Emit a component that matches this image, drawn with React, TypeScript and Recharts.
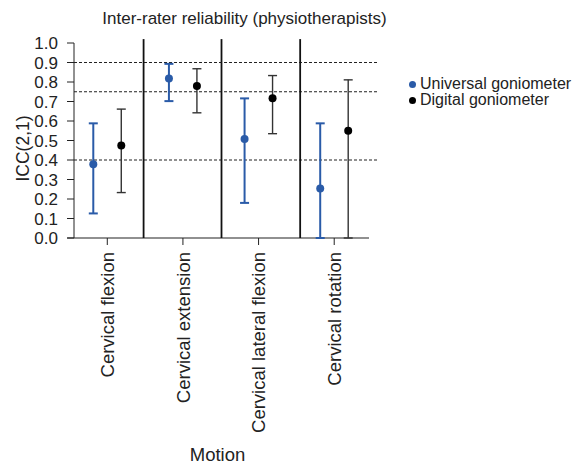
import { ScatterChart, Scatter, XAxis, YAxis, ErrorBar, ReferenceLine, Label } from 'recharts';

const FONT = '"Liberation Sans", Arial, Helvetica, sans-serif';
const BLUE = '#2a5ba8';
const INK = '#222222';

// motions on the x axis, placed at 1..4
const motions = ['Cervical flexion', 'Cervical extension', 'Cervical lateral flexion', 'Cervical rotation'];
const motionPos = [1, 2, 3, 4];
const pairOffset = 0.185;
const separators = [1.48, 2.51, 3.55];
const thresholds = [0.4, 0.75, 0.9];
const yTicks = [0, 0.1, 0.2, 0.3, 0.4, 0.5, 0.6, 0.7, 0.8, 0.9, 1.0];

// ICC(2,1) with 95% CI bounds
const universalIcc = [0.378, 0.818, 0.508, 0.254];
const universalLower = [0.126, 0.702, 0.18, 0.0];
const universalUpper = [0.588, 0.893, 0.716, 0.588];

const digitalIcc = [0.475, 0.779, 0.717, 0.55];
const digitalLower = [0.233, 0.642, 0.535, 0.0];
const digitalUpper = [0.661, 0.868, 0.833, 0.811];

function toPoints(icc: number[], lower: number[], upper: number[], shift: number) {
  return icc.map((v, i) => ({
    x: motionPos[i] + shift,
    y: v,
    ci: [v - lower[i], upper[i] - v],
  }));
}

const universalData = toPoints(universalIcc, universalLower, universalUpper, -pairOffset);
const digitalData = toPoints(digitalIcc, digitalLower, digitalUpper, pairOffset);

const MotionTick = ({ x, y, payload }: any) => {
  const idx = motionPos.indexOf(payload.value);
  return (
    <g transform={`translate(${x},${y})`}>
      <text
        transform="rotate(-90)"
        textAnchor="end"
        dy="0.36em"
        fill={INK}
        fontSize={18.5}
        fontFamily={FONT}
      >
        {motions[idx]}
      </text>
    </g>
  );
};

const dot = (color: string) => (props: any) =>
  <circle cx={props.cx} cy={props.cy} r={4} fill={color} />;

export default function App() {
  return (
    <div style={{ position: 'absolute', left: 0, top: 0, width: 574, height: 465, background: '#fff', fontFamily: FONT }}>
      <div
        style={{
          position: 'absolute',
          left: 0,
          width: 489,
          top: 9,
          textAlign: 'center',
          fontSize: 17,
          color: INK,
          whiteSpace: 'nowrap',
        }}
      >
        Inter-rater reliability (physiotherapists)
      </div>

      <ScatterChart width={574} height={465} margin={{ top: 43, right: 205, left: 0, bottom: 0 }}>
        <XAxis
          type="number"
          dataKey="x"
          domain={[0.56, 4.46]}
          ticks={motionPos}
          interval={0}
          height={227}
          axisLine={false}
          tickLine={{ stroke: INK }}
          tickSize={7}
          tickMargin={7}
          tick={<MotionTick />}
        >
          <Label
            content={() => (
              <text x={217.5} y={461} textAnchor="middle" fontSize={18.5} fontFamily={FONT} fill={INK}>
                Motion
              </text>
            )}
          />
        </XAxis>
        <YAxis
          type="number"
          dataKey="y"
          domain={[0, 1]}
          ticks={yTicks}
          interval={0}
          width={74}
          axisLine={{ stroke: INK }}
          tickLine={{ stroke: INK }}
          tickSize={7}
          tickMargin={9}
          tickFormatter={(v: number) => v.toFixed(1)}
          tick={{ fill: INK, fontSize: 17, fontFamily: FONT }}
        >
          <Label
            content={() => (
              <text
                transform="translate(29,148.5) rotate(-90)"
                textAnchor="middle"
                fontSize={17.5}
                fontFamily={FONT}
                fill={INK}
              >
                ICC(2,1)
              </text>
            )}
          />
        </YAxis>

        {/* x axis baseline runs a little past the y axis */}
        <ReferenceLine
          segment={[{ x: 0.47, y: 0 }, { x: 4.46, y: 0 }]}
          stroke={INK}
          strokeWidth={1.2}
          ifOverflow="visible"
        />
        {thresholds.map((t) => (
          <ReferenceLine
            key={t}
            segment={[{ x: 0.56, y: t }, { x: 4.58, y: t }]}
            stroke={INK}
            strokeWidth={1.2}
            strokeDasharray="3 2"
            ifOverflow="visible"
          />
        ))}
        {separators.map((s) => (
          <ReferenceLine
            key={s}
            segment={[{ x: s, y: 0 }, { x: s, y: 1.02 }]}
            stroke="#111"
            strokeWidth={1.8}
            ifOverflow="visible"
          />
        ))}

        <Scatter data={universalData} shape={dot(BLUE)} isAnimationActive={false}>
          <ErrorBar dataKey="ci" direction="y" width={4.5} stroke={BLUE} strokeWidth={2} />
        </Scatter>
        <Scatter data={digitalData} shape={dot('#000')} isAnimationActive={false}>
          <ErrorBar dataKey="ci" direction="y" width={4.5} stroke="#333" strokeWidth={1.4} />
        </Scatter>
      </ScatterChart>

      <div style={{ position: 'absolute', left: 409, top: 76, fontSize: 16, color: INK, lineHeight: '16px' }}>
        {[
          { name: 'Universal goniometer', color: BLUE },
          { name: 'Digital goniometer', color: '#000' },
        ].map((item) => (
          <div key={item.name} style={{ display: 'flex', alignItems: 'center', whiteSpace: 'nowrap' }}>
            <span
              style={{
                display: 'inline-block',
                width: 7,
                height: 7,
                borderRadius: '50%',
                background: item.color,
                marginRight: 4,
              }}
            />
            {item.name}
          </div>
        ))}
      </div>
    </div>
  );
}
